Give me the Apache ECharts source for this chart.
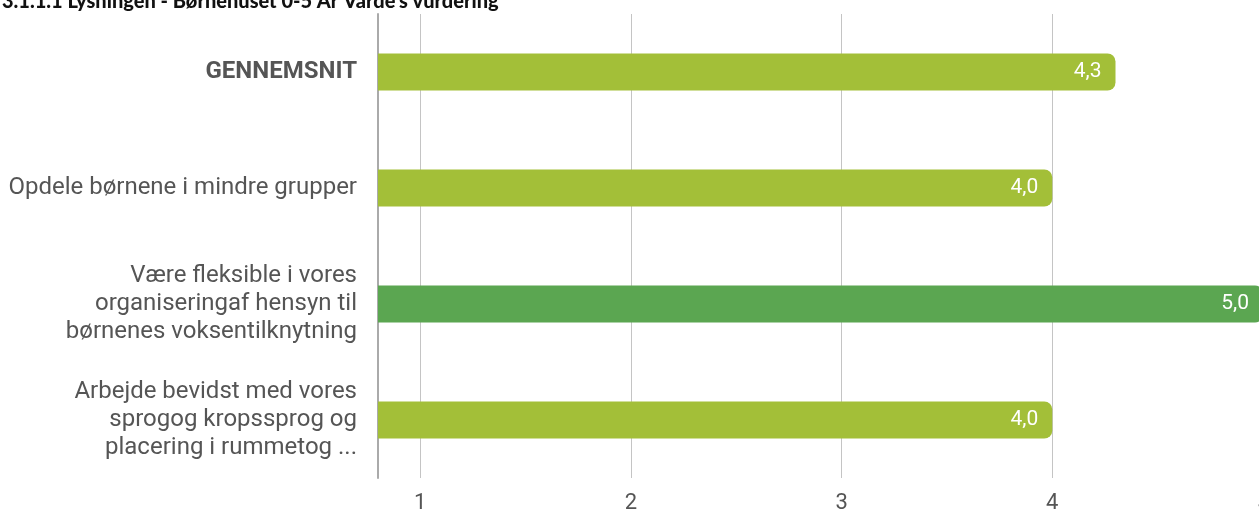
<!DOCTYPE html>
<html>
<head>
<meta charset="utf-8">
<script src="https://cdn.jsdelivr.net/npm/echarts@6/dist/echarts.min.js"></script>
<style>
html,body{margin:0;padding:0;background:#fff;}
#c{width:1259px;height:510px;}
</style>
</head>
<body>
<div id="c"></div>
<script>
const titleText = "3.1.1.1 Lysningen - Børnehuset 0-5 År Varde's vurdering";
const categories = [
  "GENNEMSNIT",
  "Opdele børnene i mindre grupper",
  "Være fleksible i vores\norganiseringaf hensyn til\nbørnenes voksentilknytning",
  "Arbejde bevidst med vores\nsprogog kropssprog og\nplacering i rummetog ..."
];
const values = [4.3, 4.0, 5.0, 4.0];
const tickValues = [1, 2, 3, 4, 5];
const barColors = ["#A3BF38", "#A3BF38", "#5BA651", "#A3BF38"];

const chart = echarts.init(document.getElementById('c'), null, {renderer: 'canvas'});
chart.setOption({
  animation: false,
  title: {
    text: titleText,
    left: -3,
    top: -13,
    textStyle: {fontFamily: 'Lato', fontWeight: 900, fontSize: 20, color: '#111'}
  },
  grid: {left: 378, right: -4, top: 14, bottom: 32, containLabel: false, outerBoundsMode: 'none'},
  xAxis: {
    type: 'value',
    min: 0.8,
    max: 5,
    axisLine: {show: false},
    axisTick: {show: false, customValues: tickValues},
    splitLine: {show: true, lineStyle: {color: '#c4c4c4', width: 1}},
    axisLabel: {
      customValues: tickValues,
      color: '#555',
      fontFamily: 'Roboto',
      fontSize: 22,
      margin: 14
    }
  },
  yAxis: {
    type: 'category',
    inverse: true,
    data: categories,
    axisLine: {show: true, lineStyle: {color: '#aaaaaa', width: 2}},
    axisTick: {show: false},
    splitLine: {show: false},
    axisLabel: {
      color: '#555',
      fontFamily: 'Roboto',
      fontSize: 24,
      lineHeight: 28,
      margin: 21,
      align: 'right',
      formatter: function (v, i) { return i === 0 ? '{b|' + v + '}' : v; },
      rich: {b: {fontWeight: 'bold', fontFamily: 'Roboto', fontSize: 24, color: '#555'}}
    }
  },
  series: [{
    type: 'bar',
    barWidth: 37,
    data: values.map((v, i) => ({value: v, itemStyle: {color: barColors[i]}})),
    itemStyle: {borderRadius: [0, 8, 8, 0]},
    label: {
      show: true,
      position: 'insideRight',
      distance: 14,
      color: '#fff',
      fontFamily: 'Roboto',
      fontSize: 21,
      formatter: p => p.value.toFixed(1).replace('.', ',')
    }
  }]
});
</script>
</body>
</html>
